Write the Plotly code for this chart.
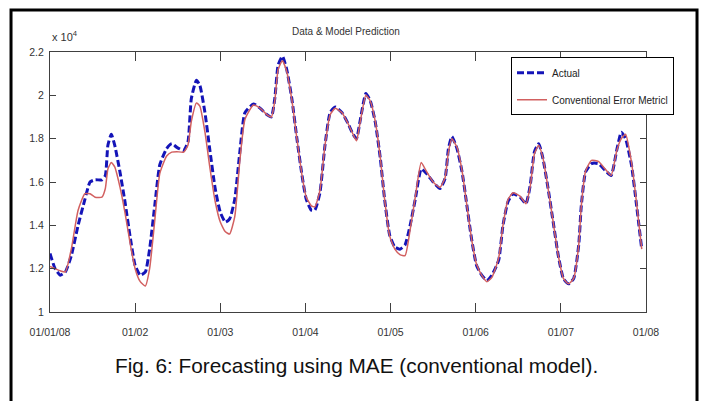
import plotly.graph_objects as go

# x positions in months since 01/01/08 (evenly spaced month ticks)
months = [0.00, 0.06, 0.12, 0.18, 0.25, 0.33, 0.41, 0.47, 0.53, 0.61, 0.65, 0.68, 0.72, 0.76, 0.82, 0.88, 0.94,
          1.00, 1.06, 1.12, 1.17, 1.23, 1.29, 1.37, 1.43, 1.49, 1.57, 1.62, 1.66, 1.72, 1.76, 1.82, 1.88, 1.94,
          2.00, 2.06, 2.11, 2.17, 2.23, 2.29, 2.39, 2.47, 2.55, 2.60, 2.64, 2.68, 2.73, 2.78, 2.84, 2.90, 2.96,
          3.01, 3.07, 3.11, 3.17, 3.23, 3.29, 3.35, 3.43, 3.50, 3.56, 3.60, 3.64, 3.71, 3.76, 3.82, 3.88, 3.93, 3.99,
          4.05, 4.11, 4.17, 4.23, 4.29, 4.36, 4.42, 4.50, 4.58, 4.64, 4.68, 4.72, 4.78, 4.84, 4.89, 4.95,
          5.01, 5.07, 5.13, 5.19, 5.27, 5.32, 5.38, 5.44, 5.52, 5.59, 5.64, 5.69, 5.74, 5.79, 5.85, 5.91, 5.97,
          6.03, 6.09, 6.15, 6.21, 6.24, 6.29, 6.36, 6.44, 6.52, 6.59, 6.66, 6.71, 6.76, 6.83, 6.89, 6.95]

# values in units of 10^4
actual = [1.27, 1.20, 1.17, 1.185, 1.26, 1.40, 1.52, 1.60, 1.61, 1.61, 1.63, 1.77, 1.82, 1.77, 1.65, 1.51, 1.35,
          1.215, 1.17, 1.185, 1.29, 1.49, 1.68, 1.754, 1.777, 1.76, 1.746, 1.785, 1.985, 2.07, 2.046, 1.92, 1.74, 1.57,
          1.46, 1.415, 1.43, 1.52, 1.74, 1.92, 1.96, 1.94, 1.91, 1.90, 1.985, 2.14, 2.18, 2.12, 1.985, 1.80, 1.63,
          1.52, 1.47, 1.47, 1.55, 1.77, 1.92, 1.946, 1.92, 1.87, 1.82, 1.80, 1.877, 2.008, 1.977, 1.877, 1.708, 1.52, 1.354,
          1.30, 1.29, 1.31, 1.40, 1.52, 1.66, 1.64, 1.60, 1.57, 1.616, 1.754, 1.81, 1.754, 1.646, 1.51, 1.34,
          1.215, 1.17, 1.146, 1.17, 1.24, 1.40, 1.51, 1.546, 1.53, 1.50, 1.585, 1.74, 1.777, 1.708, 1.57, 1.415, 1.26,
          1.154, 1.13, 1.154, 1.31, 1.49, 1.646, 1.685, 1.685, 1.654, 1.63, 1.754, 1.83, 1.80, 1.677, 1.49, 1.29]

model = [1.21, 1.20, 1.19, 1.185, 1.29, 1.47, 1.546, 1.546, 1.53, 1.53, 1.57, 1.66, 1.69, 1.67, 1.58, 1.46, 1.32,
         1.20, 1.14, 1.12, 1.20, 1.42, 1.64, 1.72, 1.738, 1.74, 1.738, 1.77, 1.88, 1.965, 1.95, 1.83, 1.66, 1.51,
         1.415, 1.37, 1.36, 1.44, 1.70, 1.89, 1.955, 1.94, 1.91, 1.90, 1.975, 2.12, 2.16, 2.11, 1.98, 1.80, 1.63,
         1.53, 1.49, 1.485, 1.56, 1.77, 1.91, 1.94, 1.92, 1.87, 1.82, 1.79, 1.87, 2.00, 1.975, 1.88, 1.71, 1.52, 1.35,
         1.29, 1.265, 1.26, 1.38, 1.53, 1.69, 1.65, 1.60, 1.575, 1.62, 1.74, 1.80, 1.76, 1.65, 1.51, 1.34,
         1.22, 1.17, 1.14, 1.16, 1.25, 1.40, 1.52, 1.55, 1.535, 1.50, 1.58, 1.73, 1.77, 1.71, 1.57, 1.415, 1.26,
         1.155, 1.13, 1.155, 1.31, 1.49, 1.65, 1.70, 1.695, 1.66, 1.63, 1.75, 1.80, 1.82, 1.69, 1.50, 1.29]

tick_pos = [0, 1, 2, 3, 4, 5, 6, 7]
tick_labels = ["01/01/08", "01/02", "01/03", "01/04", "01/05", "01/06", "01/07", "01/08"]
ytick_pos = [1, 1.2, 1.4, 1.6, 1.8, 2, 2.2]
ytick_labels = ["1", "1.2", "1.4", "1.6", "1.8", "2", "2.2"]

SMALL = "Liberation Sans Narrow, Arial Narrow, Liberation Sans, Arial, sans-serif"

fig = go.Figure()
fig.add_trace(go.Scatter(x=months, y=actual, mode="lines", name="Actual", legendgroup="a",
                         line=dict(color="#1414b8", width=3, dash="7px,3px", shape="spline", smoothing=0.5)))
fig.add_trace(go.Scatter(x=months, y=model, mode="lines", name="Conventional Error Metricl", legendgroup="b",
                         line=dict(color="#d26060", width=1.5, shape="spline", smoothing=0.5)))

axis_common = dict(showline=True, linecolor="#404040", linewidth=1, mirror="ticks", ticks="inside",
                   tickcolor="#404040", showgrid=False, zeroline=False,
                   tickfont=dict(family=SMALL, size=10.5, color="#333333"))

fig.update_xaxes(range=[0, 7], tickvals=tick_pos, ticktext=tick_labels, ticklen=9,
                 ticklabelstandoff=10, **axis_common)
fig.update_yaxes(range=[1, 2.2], tickvals=ytick_pos, ticktext=ytick_labels, ticklen=6,
                 ticklabelstandoff=3, **axis_common)

fig.update_layout(
    width=702, height=401,
    margin=dict(l=50, r=56, t=52, b=89, autoexpand=False),
    paper_bgcolor="white", plot_bgcolor="white",
    showlegend=True,
    legend=dict(x=0.7735, y=0.98, xanchor="left", yanchor="top", bgcolor="white",
                bordercolor="black", borderwidth=1, tracegroupgap=8,
                font=dict(family=SMALL, size=10, color="#222222")),
    shapes=[dict(type="rect", xref="paper", yref="paper", x0=-0.0654, x1=1.0856, y0=-0.36, y1=1.162,
                 line=dict(color="black", width=3), fillcolor="rgba(0,0,0,0)", layer="above")],
    annotations=[
        dict(text="Data & Model Prediction", xref="paper", yref="paper", x=0.497, y=1.0796,
             xanchor="center", yanchor="middle", showarrow=False,
             font=dict(family=SMALL, size=10, color="#333333")),
        dict(text="x 10<sup>4</sup>", xref="paper", yref="paper", x=0.0, y=1.06,
             xanchor="left", yanchor="middle", showarrow=False,
             font=dict(family=SMALL, size=11, color="#333333")),
        dict(text="Fig. 6: Forecasting using MAE (conventional model).", xref="paper", yref="paper",
             x=0.514, y=-0.205, xanchor="center", yanchor="middle", showarrow=False,
             font=dict(family="Liberation Sans, Arial, sans-serif", size=20.8, color="#111111")),
    ],
)

fig.write_html("out.html")
